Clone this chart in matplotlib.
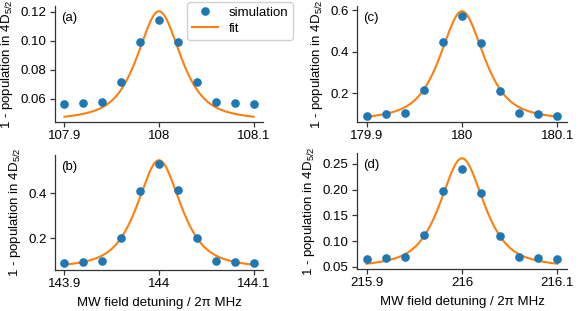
import numpy as np
import matplotlib
matplotlib.use("Agg")
import matplotlib.pyplot as plt
from matplotlib.ticker import FormatStrFormatter

plt.rcParams['font.family'] = ['Liberation Sans', 'DejaVu Sans']
plt.rcParams['font.size'] = 9.5
plt.rcParams['mathtext.fontset'] = 'custom'
plt.rcParams['mathtext.rm'] = 'Liberation Sans'
plt.rcParams['mathtext.it'] = 'Liberation Sans:italic'

# detuning offsets relative to each resonance (MHz)
offsets = [-0.1, -0.08, -0.06, -0.04, -0.02, 0.0, 0.02, 0.04, 0.06, 0.08, 0.1]

centers = {'a': 108.0, 'b': 144.0, 'c': 180.0, 'd': 216.0}

sim_a = [0.0563, 0.0570, 0.0578, 0.0719, 0.0992, 0.1143, 0.0992, 0.0719, 0.0578, 0.0570, 0.0563]
sim_b = [0.0882, 0.0956, 0.1000, 0.2000, 0.4120, 0.5290, 0.4140, 0.2010, 0.1000, 0.0956, 0.0882]
sim_c = [0.0899, 0.0980, 0.1028, 0.2140, 0.4440, 0.5725, 0.4420, 0.2113, 0.1028, 0.0980, 0.0899]
sim_d = [0.0642, 0.0668, 0.0694, 0.1119, 0.1965, 0.2410, 0.1926, 0.1094, 0.0694, 0.0668, 0.0642]

# fit parameters (pseudo-Voigt profile): offset, amplitude
fit_offset = {'a': 0.0437, 'b': 0.0562, 'c': 0.0600, 'd': 0.0449}
fit_amp = {'a': 0.0768, 'b': 0.4910, 'c': 0.5340, 'd': 0.2161}
fit_hwhm = 0.0275
fit_eta = 0.72

xticks = {'a': [107.9, 108.0, 108.1], 'b': [143.9, 144.0, 144.1],
          'c': [179.9, 180.0, 180.1], 'd': [215.9, 216.0, 216.1]}
yticks = {'a': [0.06, 0.08, 0.10, 0.12], 'b': [0.2, 0.4],
          'c': [0.2, 0.4, 0.6], 'd': [0.05, 0.10, 0.15, 0.20, 0.25]}
yfmt = {'a': '%.2f', 'b': '%.1f', 'c': '%.1f', 'd': '%.2f'}

sims = {'a': sim_a, 'b': sim_b, 'c': sim_c, 'd': sim_d}

W, H = 581, 311
fig = plt.figure(figsize=(W / 100, H / 100), dpi=100)

def px_rect(l, r, t, b):
    return [l / W, 1 - b / H, (r - l) / W, (b - t) / H]

rects = {'a': px_rect(55, 263, 6, 122), 'b': px_rect(55, 263, 155, 270),
         'c': px_rect(357, 567, 6, 122), 'd': px_rect(357, 567, 153, 269)}

blue = '#1f77b4'
orange = '#ff7f0e'

def profile(d, c, A):
    u = (d / fit_hwhm) ** 2
    L = 1.0 / (1.0 + u)
    G = np.exp(-np.log(2) * u)
    return c + A * (fit_eta * L + (1 - fit_eta) * G)

axes = {}
for k in ['a', 'b', 'c', 'd']:
    ax = fig.add_axes(rects[k])
    axes[k] = ax
    x0 = centers[k]
    xs = x0 + np.array(offsets)
    ax.plot(xs, sims[k], 'o', color=blue, markersize=5.2, label='simulation', zorder=3)
    xf = np.linspace(x0 + offsets[0], x0 + offsets[-1], 500)
    ax.plot(xf, profile(xf - x0, fit_offset[k], fit_amp[k]), '-', color=orange,
            lw=1.5, label='fit', zorder=2)
    ax.set_xticks(xticks[k])
    ax.xaxis.set_major_formatter(FormatStrFormatter('%g'))
    ax.set_yticks(yticks[k])
    ax.yaxis.set_major_formatter(FormatStrFormatter(yfmt[k]))
    for s in ['top', 'right']:
        ax.spines[s].set_visible(False)
    for s in ['left', 'bottom']:
        ax.spines[s].set_color('#333333')
        ax.spines[s].set_linewidth(0.9)
    ax.tick_params(direction='out', length=3.5, width=0.9, color='#333333', pad=2.5)
    ax.set_ylabel(r'1 - population in 4D$_{5/2}$', labelpad=4)
    ax.text(0.03, 0.95, '(%s)' % k, transform=ax.transAxes, va='top', ha='left')

axes['b'].set_xlabel('MW field detuning / 2π MHz', labelpad=5)
axes['d'].set_xlabel('MW field detuning / 2π MHz', labelpad=5)

axes['a'].legend(loc='upper right', bbox_to_anchor=(293 / W, 1 - 2 / H),
                 bbox_transform=fig.transFigure, borderaxespad=0, numpoints=1,
                 handlelength=2.0, handletextpad=0.8, borderpad=0.35,
                 labelspacing=0.3, framealpha=0.9)

fig.savefig('out.png', dpi=100)
